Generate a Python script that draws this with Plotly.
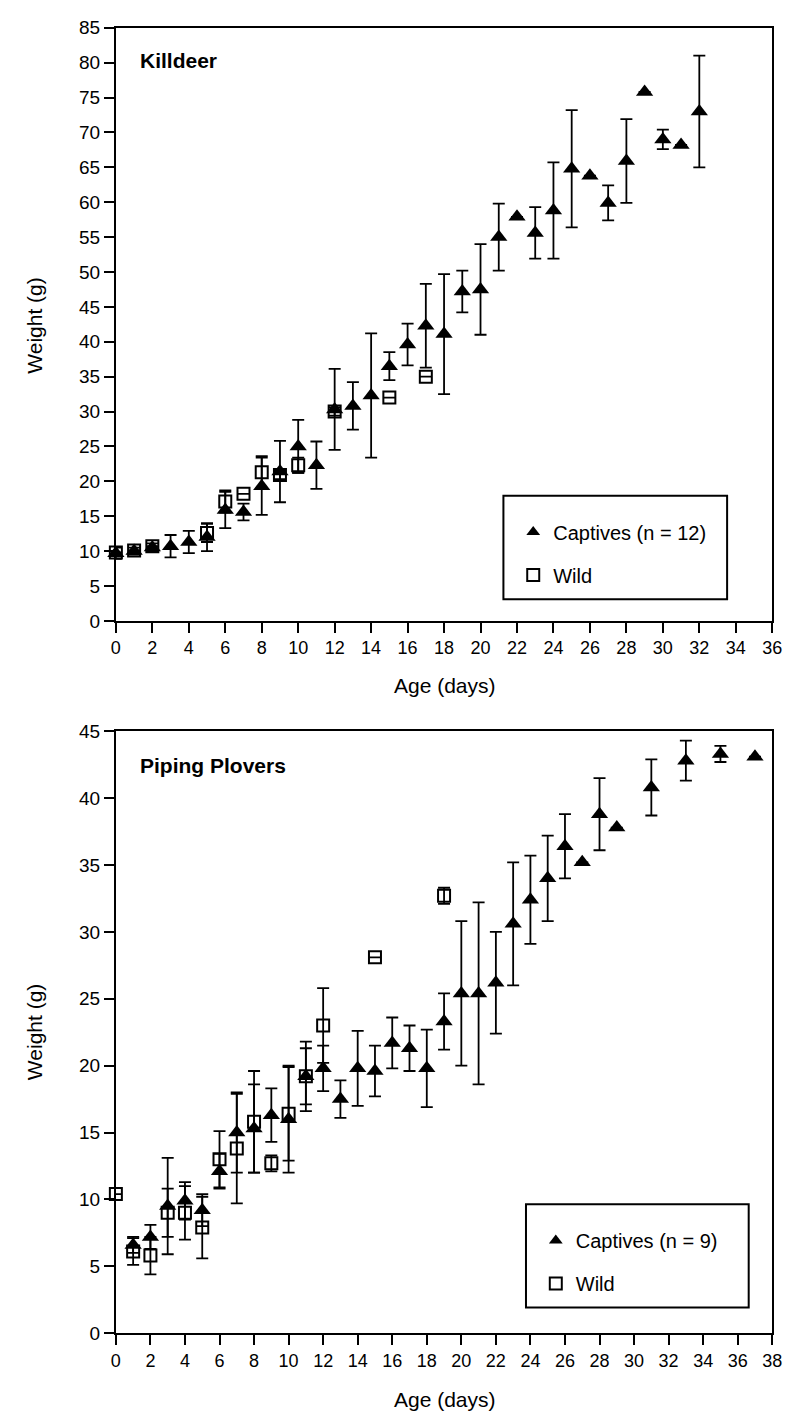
import plotly.graph_objects as go

# ---------------- Killdeer ----------------
kd_cap_age = [0, 1, 2, 3, 4, 5, 6, 7, 8, 9, 10, 11, 12, 13, 14, 15, 16, 17, 18, 19, 20,
              21, 22, 23, 24, 25, 26, 27, 28, 29, 30, 31, 32]
kd_cap_wt = [9.7, 10.0, 10.5, 10.7, 11.3, 12.0, 15.9, 15.6, 19.3, 21.4, 25.0, 22.3, 30.3,
             30.8, 32.3, 36.5, 39.6, 42.3, 41.1, 47.2, 47.5, 55.0, 57.9, 55.6, 58.8, 64.8,
             63.8, 59.9, 65.9, 75.8, 69.0, 68.2, 73.0]
kd_cap_err = [0.8, 0.5, 0.6, 1.6, 1.6, 2.0, 2.6, 1.2, 4.1, 4.4, 3.8, 3.4, 5.8, 3.4, 8.9,
              2.0, 3.0, 6.0, 8.6, 3.0, 6.5, 4.8, None, 3.7, 6.9, 8.4, None, 2.5, 6.0,
              None, 1.4, None, 8.0]

kd_wild_age = [0, 1, 2, 5, 6, 7, 8, 9, 10, 12, 15, 17]
kd_wild_wt = [9.8, 10.1, 10.7, 12.6, 17.1, 18.2, 21.3, 20.9, 22.3, 30.0, 32.0, 35.0]
kd_wild_err = [None, None, None, 1.3, 1.6, None, 2.3, 0.6, 1.1, 0.6, None, None]

# ---------------- Piping Plovers ----------------
pp_cap_age = [1, 2, 3, 4, 5, 6, 7, 8, 9, 10, 11, 12, 13, 14, 15, 16, 17, 18, 19, 20, 21,
              22, 23, 24, 25, 26, 27, 28, 29, 31, 33, 35, 37]
pp_cap_wt = [6.6, 7.2, 9.5, 9.9, 9.2, 12.1, 15.0, 15.3, 16.3, 16.0, 19.2, 19.8, 17.5, 19.8,
             19.6, 21.7, 21.3, 19.8, 23.3, 25.4, 25.4, 26.2, 30.6, 32.4, 34.0, 36.4, 35.2,
             38.8, 37.8, 40.8, 42.8, 43.3, 43.1]
pp_cap_err = [0.6, 0.9, 3.6, 1.4, 1.2, 1.3, 3.0, 3.3, 2.0, 4.0, 2.6, 1.7, 1.4, 2.8, 1.9,
              1.9, 1.7, 2.9, 2.1, 5.4, 6.8, 3.8, 4.6, 3.3, 3.2, 2.4, None, 2.7, None,
              2.1, 1.5, 0.6, None]

pp_wild_age = [0, 1, 2, 3, 4, 5, 6, 7, 8, 9, 10, 11, 12, 15, 19]
pp_wild_wt = [10.4, 6.1, 5.8, 9.0, 9.0, 7.9, 13.0, 13.8, 15.8, 12.7, 16.4, 19.2, 23.0, 28.1, 32.7]
pp_wild_err = [None, 1.0, 1.4, 1.8, 2.0, 2.3, 2.1, 4.1, 3.8, 0.6, 3.5, 2.1, 2.8, None, 0.6]

kd_xticks = list(range(0, 37, 2))
kd_yticks = list(range(0, 86, 5))
pp_xticks = list(range(0, 39, 2))
pp_yticks = list(range(0, 46, 5))

W, H = 795, 1424
FONT = "Liberation Sans, Arial, Helvetica, sans-serif"


def px_x(p):
    return p / W


def px_y(p):
    return 1 - p / H


tri = dict(symbol="triangle-up", size=15, color="black")
sq = dict(symbol="square-open", size=12, color="black", line=dict(width=2, color="black"))


def err(arr):
    return dict(type="data", array=arr, visible=True, color="black", thickness=1.8, width=6)


fig = go.Figure()

fig.add_trace(go.Scatter(x=kd_cap_age, y=kd_cap_wt, mode="markers", marker=tri,
                         error_y=err(kd_cap_err), name="Captives (n = 12)",
                         legendgroup="c1", xaxis="x", yaxis="y", legend="legend",
                         cliponaxis=False))
fig.add_trace(go.Scatter(x=kd_wild_age, y=kd_wild_wt, mode="markers", marker=sq,
                         error_y=err(kd_wild_err), name="Wild",
                         legendgroup="w1", xaxis="x", yaxis="y", legend="legend",
                         cliponaxis=False))
fig.add_trace(go.Scatter(x=pp_cap_age, y=pp_cap_wt, mode="markers", marker=tri,
                         error_y=err(pp_cap_err), name="Captives (n = 9)",
                         legendgroup="c2", xaxis="x2", yaxis="y2", legend="legend2",
                         cliponaxis=False))
fig.add_trace(go.Scatter(x=pp_wild_age, y=pp_wild_wt, mode="markers", marker=sq,
                         error_y=err(pp_wild_err), name="Wild",
                         legendgroup="w2", xaxis="x2", yaxis="y2", legend="legend2",
                         cliponaxis=False))

axis_common = dict(showline=True, linecolor="black", linewidth=2, mirror=True,
                   ticks="outside", ticklen=10, tickwidth=2, tickcolor="black",
                   showgrid=False, zeroline=False)

top_dom = [px_y(620), px_y(18)]
bot_dom = [px_y(1343), px_y(732)]
x_dom = [px_x(113), px_x(782)]

leg_common = dict(xanchor="left", yanchor="top", borderwidth=0, bgcolor="rgba(0,0,0,0)",
                  font=dict(family=FONT, size=20), itemsizing="constant",
                  tracegroupgap=14)

fig.update_layout(
    width=W, height=H,
    margin=dict(l=0, r=0, t=0, b=0),
    paper_bgcolor="white", plot_bgcolor="white",
    font=dict(family=FONT, color="black", size=15),
    xaxis=dict(domain=x_dom, anchor="y", range=[0, 36], tickvals=kd_xticks,
               tickfont=dict(family=FONT, size=18), **axis_common),
    yaxis=dict(domain=top_dom, anchor="x", range=[0, 85], tickvals=kd_yticks,
               tickfont=dict(family=FONT, size=19), **axis_common),
    xaxis2=dict(domain=x_dom, anchor="y2", range=[0, 38], tickvals=pp_xticks,
                tickfont=dict(family=FONT, size=18), **axis_common),
    yaxis2=dict(domain=bot_dom, anchor="x2", range=[0, 45], tickvals=pp_yticks,
                tickfont=dict(family=FONT, size=19), **axis_common),
    legend=dict(x=px_x(518), y=px_y(510), **leg_common),
    legend2=dict(x=px_x(541), y=px_y(1229), **leg_common),
    showlegend=True,
    shapes=[
        dict(type="rect", xref="paper", yref="paper",
             x0=px_x(508), x1=px_x(736), y0=px_y(598), y1=px_y(493),
             line=dict(color="black", width=2), fillcolor="rgba(0,0,0,0)", layer="above"),
        dict(type="rect", xref="paper", yref="paper",
             x0=px_x(531), x1=px_x(758), y0=px_y(1317), y1=px_y(1212),
             line=dict(color="black", width=2), fillcolor="rgba(0,0,0,0)", layer="above"),
    ],
)

ann = [
    dict(text="<b>Killdeer</b>", x=px_x(136), y=px_y(51), xanchor="left", yanchor="middle",
         font=dict(size=21)),
    dict(text="<b>Piping Plovers</b>", x=px_x(136), y=px_y(767), xanchor="left",
         yanchor="middle", font=dict(size=21)),
    dict(text="Age (days)", x=px_x(448), y=px_y(686), xanchor="center", yanchor="middle",
         font=dict(size=21)),
    dict(text="Age (days)", x=px_x(448), y=px_y(1410), xanchor="center", yanchor="middle",
         font=dict(size=21)),
    dict(text="Weight (g)", x=px_x(30), y=px_y(320), xanchor="center", yanchor="middle",
         textangle=-90, font=dict(size=21)),
    dict(text="Weight (g)", x=px_x(30), y=px_y(1037), xanchor="center", yanchor="middle",
         textangle=-90, font=dict(size=21)),
]
for a in ann:
    a.update(xref="paper", yref="paper", showarrow=False)
fig.update_layout(annotations=ann)

fig.write_html("out.html")
